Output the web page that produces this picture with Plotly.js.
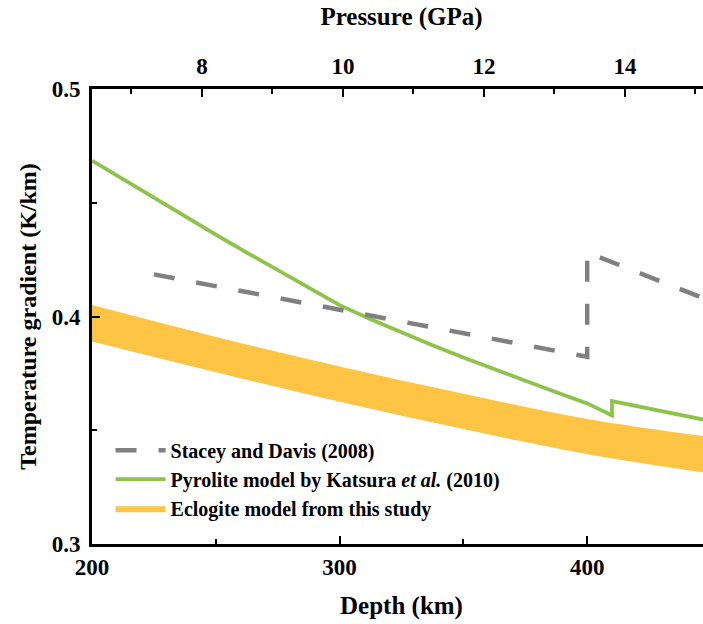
<!DOCTYPE html>
<html>
<head>
<meta charset="utf-8">
<script src="https://cdn.plot.ly/plotly-3.0.1.min.js"></script>
<style>
html,body{margin:0;padding:0;overflow:hidden;background:#fff;}
#chart{width:720px;height:624px;}
</style>
</head>
<body>
<div id="chart"></div>
<script>
// Stacey and Davis (2008)
const depthStacey = [225, 300, 350, 400, 400, 450];
const gradStacey  = [0.4185, 0.4030, 0.3925, 0.3823, 0.4282, 0.4067];

// Pyrolite model by Katsura et al. (2010)
const depthKatsura = [200, 212.5, 225, 237.5, 250, 262.5, 275, 287.5, 300, 312.5, 325, 337.5, 350, 362.5, 375, 387.5, 400, 410, 410, 430, 450];
const gradKatsura  = [0.4685, 0.4603, 0.4521, 0.4440, 0.4360, 0.4281, 0.4203, 0.4126, 0.4050, 0.3988, 0.3930, 0.3874, 0.3820, 0.3768, 0.3717, 0.3667, 0.3618, 0.3565, 0.3628, 0.3585, 0.3540];

// Eclogite model from this study (band)
const depthEclogite = [200, 250, 300, 350, 400, 450];
const gradEclogiteUpper = [0.405, 0.391, 0.378, 0.366, 0.355, 0.347];
const gradEclogiteLower = [0.389, 0.3755, 0.3625, 0.3505, 0.3395, 0.331];

// Axes
const depthRange = [200, 450];
const gradRange = [0.3, 0.5];
const pressureRange = [6.44, 15.22];
const depthTicks = [200, 300, 400];
const gradTicks = [0.3, 0.4, 0.5];
const pressureTicks = [8, 10, 12, 14];

const serif = "Liberation Serif, Times New Roman, serif";

const traces = [
  {
    x: depthEclogite, y: gradEclogiteLower, type: 'scatter', mode: 'lines',
    line: {width: 0, color: '#fdc543', shape: 'spline'}, showlegend: false, hoverinfo: 'skip'
  },
  {
    x: depthEclogite, y: gradEclogiteUpper, type: 'scatter', mode: 'lines',
    fill: 'tonexty', fillcolor: '#fdc543',
    line: {width: 0, color: '#fdc543', shape: 'spline'},
    name: 'Eclogite model from this study', legendrank: 3
  },
  {
    x: depthKatsura, y: gradKatsura, type: 'scatter', mode: 'lines',
    line: {width: 3.8, color: '#8dc34a'},
    name: 'Pyrolite model by Katsura <i>et al.</i> (2010)', legendrank: 2
  },
  {
    x: depthStacey, y: gradStacey, type: 'scatter', mode: 'lines',
    line: {width: 4.5, color: '#808080', dash: '21px,22px'},
    name: 'Stacey and Davis (2008)', legendrank: 1
  },
  {
    x: pressureRange, y: [null, null], xaxis: 'x2', type: 'scatter', mode: 'lines',
    showlegend: false, hoverinfo: 'skip'
  }
];

const tickFont = {family: serif, size: 23, color: '#000', weight: 'bold'};
const titleFont = {family: serif, size: 25, color: '#000', weight: 'bold'};

const layout = {
  width: 720, height: 624,
  margin: {l: 92, r: 9, t: 89, b: 80},
  paper_bgcolor: '#fff', plot_bgcolor: '#fff',
  showlegend: true,
  legend: {
    x: 0.03, y: 0.249, xanchor: 'left', yanchor: 'top',
    traceorder: 'normal',
    bgcolor: 'rgba(0,0,0,0)', borderwidth: 0,
    font: {family: serif, size: 20, color: '#000', weight: 'bold'},
    itemwidth: 50, tracegroupgap: 0
  },
  xaxis: {
    range: depthRange, tickvals: depthTicks, ticktext: depthTicks.map(String),
    ticks: 'inside', ticklen: 8, tickwidth: 2, tickcolor: '#000',
    minor: {dtick: 50, ticks: 'inside', ticklen: 5, tickwidth: 2, tickcolor: '#000'},
    showline: true, linewidth: 3, linecolor: '#000', mirror: false,
    showgrid: false, zeroline: false,
    tickfont: tickFont, ticklabelstandoff: 0,
    title: {text: 'Depth (km)', font: titleFont, standoff: 18}
  },
  xaxis2: {
    overlaying: 'x', side: 'top', anchor: 'y',
    range: pressureRange, tickvals: pressureTicks, ticktext: pressureTicks.map(String),
    ticks: 'inside', ticklen: 8, tickwidth: 2, tickcolor: '#000',
    minor: {dtick: 1, ticks: 'inside', ticklen: 5, tickwidth: 2, tickcolor: '#000'},
    showline: true, linewidth: 3, linecolor: '#000',
    showgrid: false, zeroline: false,
    tickfont: tickFont, ticklabelstandoff: 3,
    title: {text: 'Pressure (GPa)', font: titleFont, standoff: 22}
  },
  yaxis: {
    range: gradRange, tickvals: gradTicks, ticktext: gradTicks.map(v => v.toFixed(1)),
    ticks: 'inside', ticklen: 8, tickwidth: 2, tickcolor: '#000',
    minor: {dtick: 0.05, ticks: 'inside', ticklen: 5, tickwidth: 2, tickcolor: '#000'},
    showline: true, linewidth: 3, linecolor: '#000', mirror: 'ticks',
    showgrid: false, zeroline: false,
    tickfont: tickFont, ticklabelstandoff: 4,
    title: {text: 'Temperature gradient (K/km)', font: {family: serif, size: 24, color: '#000', weight: 'bold'}, standoff: 9}
  }
};

Plotly.newPlot('chart', traces, layout, {displayModeBar: false, staticPlot: true});
</script>
</body>
</html>
